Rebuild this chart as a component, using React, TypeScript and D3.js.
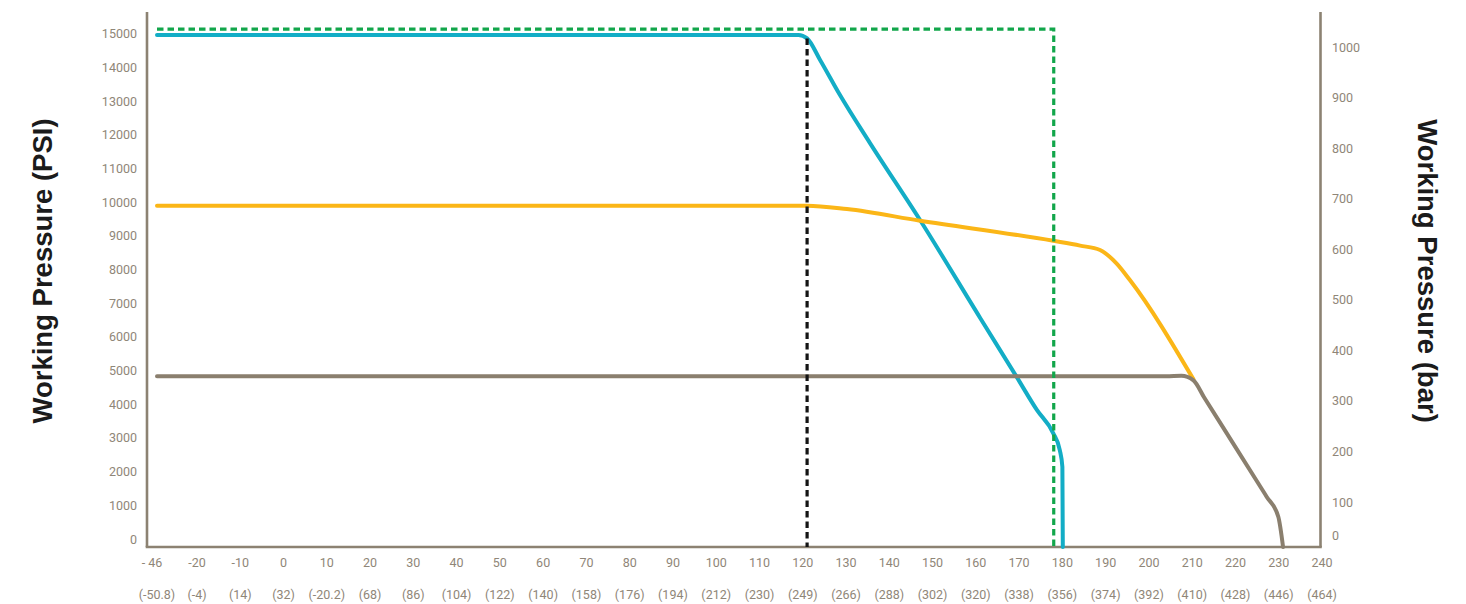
import React from "react";
import * as d3 from "d3";

const W = 1466;
const H = 604;

// X axis tick values (°C) and their °F companions
const xTicks = [-46, -20, -10, 0, 10, 20, 30, 40, 50, 60, 70, 80, 90, 100, 110, 120, 130, 140, 150, 160, 170, 180, 190, 200, 210, 220, 230, 240];
const xTickLabels = ["- 46", "-20", "-10", "0", "10", "20", "30", "40", "50", "60", "70", "80", "90", "100", "110", "120", "130", "140", "150", "160", "170", "180", "190", "200", "210", "220", "230", "240"];
const xTickLabelsF = ["(-50.8)", "(-4)", "(14)", "(32)", "(-20.2)", "(68)", "(86)", "(104)", "(122)", "(140)", "(158)", "(176)", "(194)", "(212)", "(230)", "(249)", "(266)", "(288)", "(302)", "(320)", "(338)", "(356)", "(374)", "(392)", "(410)", "(428)", "(446)", "(464)"];

const psiTicks = [0, 1000, 2000, 3000, 4000, 5000, 6000, 7000, 8000, 9000, 10000, 11000, 12000, 13000, 14000, 15000];
const barTicks = [0, 100, 200, 300, 400, 500, 600, 700, 800, 900, 1000];

// Series: [temperature °C, pressure psi]
const blueSeries: [number, number][] = [
  [-46, 15000], [119, 15000], [121, 14900], [124, 14270], [128.6, 13240], [135.5, 11840],
  [147.1, 9580], [161, 6710], [169.4, 4990], [174.1, 4015], [177.9, 3330], [179.4, 2840],
  [180, 2350], [180.1, 0],
];
const yellowSeries: [number, number][] = [
  [-46, 10000], [121, 10000], [130.2, 9900], [147.1, 9560], [177.9, 8970], [184.1, 8830],
  [188.7, 8700], [192.5, 8310], [195.6, 7820], [210.3, 4910],
];
const graySeries: [number, number][] = [
  [-46, 5000], [204, 5000], [207.5, 5015], [210.3, 4880], [212.7, 4395], [220, 2926],
  [225, 1918], [227.2, 1474], [229.9, 888], [231, 0],
];
const greenLimit: [number, number][] = [[-46, 15170], [178, 15170], [178, 0]];
const blackLimit: [number, number][] = [[121, 14900], [121, 0]];

const AXIS = "#8c8272";
const TICK = "#8f8678";

export default function App() {
  const xs = d3.scaleLinear().domain([-46, -20, 240]).range([157, 197, 1322]);
  const y = d3.scaleLinear().domain([0, 15000]).range([547, 35]);
  const yLabel = d3.scaleLinear().domain([0, 15000]).range([539, 33.7]);
  const barLabel = d3.scaleLinear().domain([0, 100, 1000]).range([535, 502, 47]);

  const line = d3
    .line<[number, number]>()
    .x((d) => xs(d[0]))
    .y((d) => y(d[1]))
    .curve(d3.curveMonotoneX);
  const straight = d3
    .line<[number, number]>()
    .x((d) => xs(d[0]))
    .y((d) => y(d[1]));

  const tickFont = { fontFamily: "Roboto, 'DejaVu Sans', sans-serif", fontSize: 12.5, fill: TICK };
  const titleFont = { fontFamily: "'Liberation Sans', Arial, sans-serif", fontSize: 27.5, fontWeight: 700, fill: "#1b1b1b" };

  return (
    <svg width={W} height={H} style={{ position: "absolute", left: 0, top: 0, background: "#fff" }}>
      {/* axes */}
      <line x1={147} y1={12} x2={147} y2={547} stroke={AXIS} strokeWidth={2.6} />
      <line x1={1320.5} y1={12} x2={1320.5} y2={547} stroke={AXIS} strokeWidth={2.6} />
      <line x1={145.7} y1={547} x2={1321.8} y2={547} stroke={AXIS} strokeWidth={2.6} />

      {/* left tick labels */}
      {psiTicks.map((t) => (
        <text key={"l" + t} x={137} y={yLabel(t)} dy="0.36em" textAnchor="end" {...tickFont}>
          {t}
        </text>
      ))}
      {/* right tick labels */}
      {barTicks.map((t) => (
        <text key={"r" + t} x={1332} y={barLabel(t)} dy="0.36em" textAnchor="start" {...tickFont}>
          {t}
        </text>
      ))}
      {/* bottom labels */}
      {xTicks.map((t, i) => (
        <g key={"b" + t}>
          <text x={xs(t) + (i === 0 ? -5 : 0)} y={562} dy="0.36em" textAnchor="middle" {...tickFont}>
            {xTickLabels[i]}
          </text>
          <text x={xs(t)} y={594} dy="0.36em" textAnchor="middle" {...tickFont}>
            {xTickLabelsF[i]}
          </text>
        </g>
      ))}

      {/* titles */}
      <text transform="translate(52,271) rotate(-90)" textAnchor="middle" {...titleFont}>
        Working Pressure (PSI)
      </text>
      <text transform="translate(1418,271) rotate(90)" textAnchor="middle" {...titleFont}>
        Working Pressure (bar)
      </text>

      {/* series */}
      <path d={line(blueSeries) || ""} fill="none" stroke="#13adc6" strokeWidth={4} strokeLinejoin="round" strokeLinecap="round" />
      <path d={line(yellowSeries) || ""} fill="none" stroke="#fbb617" strokeWidth={4} strokeLinejoin="round" strokeLinecap="round" />
      <path d={line(graySeries) || ""} fill="none" stroke="#8a7f6e" strokeWidth={4} strokeLinejoin="round" strokeLinecap="round" />

      {/* limit lines */}
      <path d={straight(blackLimit) || ""} fill="none" stroke="#141414" strokeWidth={3.2} strokeDasharray="6.5 4" />
      <path d={straight(greenLimit) || ""} fill="none" stroke="#12a64b" strokeWidth={3.2} strokeDasharray="6.5 4" />
    </svg>
  );
}
